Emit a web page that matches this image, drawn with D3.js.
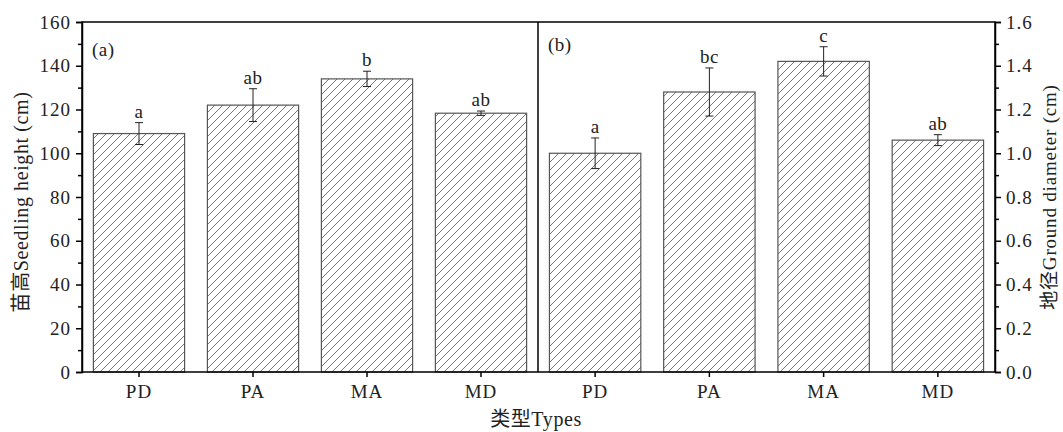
<!DOCTYPE html>
<html>
<head>
<meta charset="utf-8">
<script src="https://cdn.jsdelivr.net/npm/d3@7"></script>
<style>
body { margin: 0; background: #fff; }
text { font-family: "Liberation Serif", "Noto Sans CJK SC", serif; fill: #222; }
</style>
</head>
<body>
<div id="chart"></div>
<script>
// data
var types = ["PD", "PA", "MA", "MD"];
var heightMean = [109, 122, 134, 118.3];
var heightErr = [5, 7.5, 3.5, 1];
var heightLetters = ["a", "ab", "b", "ab"];
var diamMean = [1.00, 1.28, 1.42, 1.06];
var diamErr = [0.07, 0.11, 0.067, 0.025];
var diamLetters = ["a", "bc", "c", "ab"];
var heightTicks = [0, 20, 40, 60, 80, 100, 120, 140, 160];
var diamTicks = [0, 0.2, 0.4, 0.6, 0.8, 1.0, 1.2, 1.4, 1.6];

var W = 1063, H = 432;
// plot edges (note: "top" is taken by window.top)
var pLeft = 82, pRight = 995, pTop = 22, pBottom = 372, pMid = 538;
var fs = "19px";

var svg = d3.select("#chart").append("svg")
	.attr("width", W).attr("height", H);

// hatch pattern
var pat = svg.append("defs").append("pattern")
	.attr("id", "hatch")
	.attr("patternUnits", "userSpaceOnUse")
	.attr("width", 8).attr("height", 8);
pat.append("rect").attr("width", 8).attr("height", 8).attr("fill", "#fff");
pat.append("path")
	.attr("d", "M-2,2 L2,-2 M0,8 L8,0 M6,10 L10,6")
	.attr("stroke", "#555").attr("stroke-width", 0.8);

var y1 = d3.scaleLinear().domain([0, 160]).range([pBottom, pTop]);
var y2 = d3.scaleLinear().domain([0, 1.6]).range([pBottom, pTop]);
var xa = d3.scaleBand().domain(types).range([pLeft, pMid]).paddingInner(0.2).paddingOuter(0.1);
var xb = d3.scaleBand().domain(types).range([pMid, pRight]).paddingInner(0.2).paddingOuter(0.1);

function panel(x, y, means, errs, letters, tag, tagX, tagY) {
	var g = svg.append("g");
	g.selectAll("rect.bar")
		.data(means)
		.enter()
		.append("rect")
		.attr("class", "bar")
		.attr("x", function(d, i) { return x(types[i]); })
		.attr("y", function(d) { return y(d); })
		.attr("width", x.bandwidth())
		.attr("height", function(d) { return pBottom - y(d); })
		.attr("fill", "url(#hatch)")
		.attr("stroke", "#555")
		.attr("stroke-width", 1.2);

	var eb = g.selectAll("g.err")
		.data(means)
		.enter()
		.append("g")
		.attr("class", "err");
	eb.append("line")
		.attr("x1", function(d, i) { return x(types[i]) + x.bandwidth() / 2; })
		.attr("x2", function(d, i) { return x(types[i]) + x.bandwidth() / 2; })
		.attr("y1", function(d, i) { return y(d + errs[i]); })
		.attr("y2", function(d, i) { return y(d - errs[i]); })
		.attr("stroke", "#222");
	[1, -1].forEach(function(s) {
		eb.append("line")
			.attr("x1", function(d, i) { return x(types[i]) + x.bandwidth() / 2 - 4; })
			.attr("x2", function(d, i) { return x(types[i]) + x.bandwidth() / 2 + 4; })
			.attr("y1", function(d, i) { return y(d + s * errs[i]); })
			.attr("y2", function(d, i) { return y(d + s * errs[i]); })
			.attr("stroke", "#222");
	});

	g.selectAll("text.letter")
		.data(means)
		.enter()
		.append("text")
		.attr("class", "letter")
		.attr("text-anchor", "middle")
		.attr("x", function(d, i) { return x(types[i]) + x.bandwidth() / 2; })
		.attr("y", function(d, i) { return y(d + errs[i]) - 5; })
		.attr("font-size", fs)
		.attr("letter-spacing", "0.5px")
		.text(function(d, i) { return letters[i]; });

	g.append("text")
		.attr("x", tagX).attr("y", tagY)
		.attr("font-size", fs)
		.attr("letter-spacing", "0.5px")
		.text(tag);

	// bottom axis
	var ax = g.append("g")
		.attr("transform", "translate(0," + pBottom + ")")
		.call(d3.axisBottom(x).tickSize(5).tickSizeOuter(0).tickPadding(8));
	ax.select(".domain").remove();
	ax.selectAll("line").attr("stroke", "#000").attr("stroke-width", 1.5);
	ax.selectAll("text").attr("font-size", fs).attr("letter-spacing", "1px")
		.attr("font-family", "Liberation Serif").attr("fill", "#222");
}

panel(xa, y1, heightMean, heightErr, heightLetters, "(a)", 92, 56);
panel(xb, y2, diamMean, diamErr, diamLetters, "(b)", 548, 51);

// frame
var frame = svg.append("g").attr("fill", "none").attr("stroke", "#000").attr("stroke-width", 1.5);
frame.append("rect").attr("x", pLeft).attr("y", pTop)
	.attr("width", pRight - pLeft).attr("height", pBottom - pTop);
frame.append("line").attr("x1", pMid).attr("x2", pMid).attr("y1", pTop).attr("y2", pBottom);

// left axis
var ay = svg.append("g").attr("transform", "translate(" + pLeft + ",0)")
	.call(d3.axisLeft(y1).tickValues(heightTicks).tickSize(6).tickPadding(5).tickFormat(d3.format("d")));
ay.select(".domain").attr("stroke-width", 1.5);
ay.selectAll("text").attr("font-size", fs).attr("letter-spacing", "1px")
	.attr("font-family", "Liberation Serif").attr("fill", "#222");
ay.selectAll("line").attr("stroke-width", 1.5);
svg.append("g").attr("transform", "translate(" + pLeft + ",0)")
	.call(d3.axisLeft(y1).tickValues(d3.range(10, 160, 20)).tickSize(4).tickFormat(""))
	.call(function(g) { g.select(".domain").remove(); g.selectAll("line").attr("stroke-width", 1.5); });

// right axis
var ay2 = svg.append("g").attr("transform", "translate(" + pRight + ",0)")
	.call(d3.axisRight(y2).tickValues(diamTicks).tickSize(6).tickPadding(5).tickFormat(d3.format(".1f")));
ay2.select(".domain").attr("stroke-width", 1.5);
ay2.selectAll("text").attr("font-size", fs).attr("letter-spacing", "1px")
	.attr("font-family", "Liberation Serif").attr("fill", "#222");
ay2.selectAll("line").attr("stroke-width", 1.5);
svg.append("g").attr("transform", "translate(" + pRight + ",0)")
	.call(d3.axisRight(y2).tickValues(d3.range(0.1, 1.6, 0.2)).tickSize(4).tickFormat(""))
	.call(function(g) { g.select(".domain").remove(); g.selectAll("line").attr("stroke-width", 1.5); });

// axis titles
svg.append("text")
	.attr("transform", "translate(28,202) rotate(-90)")
	.attr("text-anchor", "middle")
	.attr("font-size", "20px")
	.attr("letter-spacing", "0.6px")
	.text("苗高Seedling height (cm)");
svg.append("text")
	.attr("transform", "translate(1056,197) rotate(-90)")
	.attr("text-anchor", "middle")
	.attr("font-size", "19px")
	.attr("letter-spacing", "0.8px")
	.text("地径Ground diameter (cm)");
svg.append("text")
	.attr("x", 536).attr("y", 426)
	.attr("text-anchor", "middle")
	.attr("font-size", "20px")
	.attr("letter-spacing", "0.6px")
	.text("类型Types");
</script>
</body>
</html>
